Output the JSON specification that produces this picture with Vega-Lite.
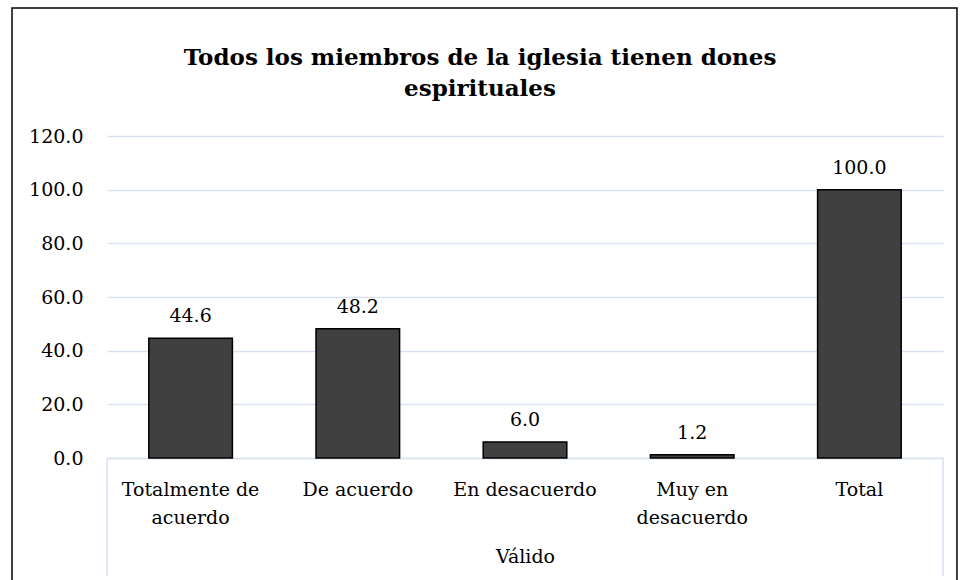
{
  "$schema": "https://vega.github.io/schema/vega-lite/v6.json",
  "width": 836,
  "height": 322,
  "autosize": {"type": "none"},
  "padding": {"left": 107, "top": 136, "right": 18, "bottom": 122},
  "background": "white",
  "config": {"view": {"stroke": null}, "font": "DejaVu Serif"},
  "title": {
    "text": ["Todos los miembros de la iglesia tienen dones", "espirituales"],
    "font": "DejaVu Serif",
    "fontSize": 23,
    "fontWeight": "bold",
    "color": "black",
    "anchor": "middle",
    "dx": -45,
    "offset": -94,
    "lineHeight": 31
  },
  "data": {
    "values": [
      {"categoria": "Totalmente de acuerdo", "porcentaje": 44.6},
      {"categoria": "De acuerdo", "porcentaje": 48.2},
      {"categoria": "En desacuerdo", "porcentaje": 6.0},
      {"categoria": "Muy en desacuerdo", "porcentaje": 1.2},
      {"categoria": "Total", "porcentaje": 100.0}
    ]
  },
  "layer": [
    {
      "mark": {"type": "bar", "fill": "#404040", "stroke": "black", "strokeWidth": 1.5},
      "encoding": {
        "x": {
          "field": "categoria",
          "type": "nominal",
          "sort": null,
          "scale": {
            "domain": ["Totalmente de acuerdo", "De acuerdo", "En desacuerdo", "Muy en desacuerdo", "Total"],
            "paddingInner": 0.5,
            "paddingOuter": 0.25
          },
          "axis": {
            "orient": "bottom",
            "domain": true,
            "domainColor": "#D9E2F3",
            "domainWidth": 1.5,
            "ticks": false,
            "labelAngle": 0,
            "labelPadding": 22,
            "labelFont": "DejaVu Serif",
            "labelFontSize": 19,
            "labelColor": "black",
            "labelLineHeight": 28,
            "labelExpr": "datum.value == 'Totalmente de acuerdo' ? ['Totalmente de', 'acuerdo'] : datum.value == 'Muy en desacuerdo' ? ['Muy en', 'desacuerdo'] : datum.label",
            "title": "Válido",
            "titleFont": "DejaVu Serif",
            "titleFontSize": 19,
            "titleFontWeight": "normal",
            "titleColor": "black",
            "titlePadding": 20
          }
        },
        "y": {
          "field": "porcentaje",
          "type": "quantitative",
          "scale": {"domain": [0, 120], "nice": false},
          "axis": {
            "title": null,
            "domain": false,
            "ticks": false,
            "values": [0, 20, 40, 60, 80, 100, 120],
            "format": ".1f",
            "labelPadding": 24,
            "labelFont": "DejaVu Serif",
            "labelFontSize": 19,
            "labelColor": "black",
            "grid": true,
            "gridColor": "#D9E2F3",
            "gridWidth": 1.5
          }
        }
      }
    },
    {
      "mark": {"type": "text", "baseline": "bottom", "dy": -12, "font": "DejaVu Serif", "fontSize": 19, "color": "black"},
      "encoding": {
        "x": {"field": "categoria", "type": "nominal", "sort": null},
        "y": {"field": "porcentaje", "type": "quantitative", "scale": {"domain": [0, 120], "nice": false}},
        "text": {"field": "porcentaje", "type": "quantitative", "format": ".1f"}
      }
    },
    {
      "data": {"values": [{}]},
      "mark": {"type": "rule", "color": "#D9E2F3", "strokeWidth": 1.5},
      "encoding": {
        "x": {"datum": "Totalmente de acuerdo", "type": "nominal", "bandPosition": -0.5},
        "y": {"datum": 0, "type": "quantitative", "scale": {"domain": [0, 120], "nice": false}},
        "y2": {"datum": -44}
      }
    },
    {
      "data": {"values": [{}]},
      "mark": {"type": "rule", "color": "#D9E2F3", "strokeWidth": 1.5},
      "encoding": {
        "x": {"datum": "Total", "type": "nominal", "bandPosition": 1.5},
        "y": {"datum": 0, "type": "quantitative", "scale": {"domain": [0, 120], "nice": false}},
        "y2": {"datum": -44}
      }
    },
    {
      "data": {"values": [{}]},
      "mark": {"type": "rect", "fill": null, "stroke": "black", "strokeWidth": 1.5},
      "encoding": {
        "x": {"datum": "Totalmente de acuerdo", "type": "nominal", "bandPosition": -1.636},
        "x2": {"datum": "Total", "bandPosition": 1.667},
        "y": {"datum": 167.7, "type": "quantitative", "scale": {"domain": [0, 120], "nice": false}},
        "y2": {"datum": -60}
      }
    }
  ]
}
